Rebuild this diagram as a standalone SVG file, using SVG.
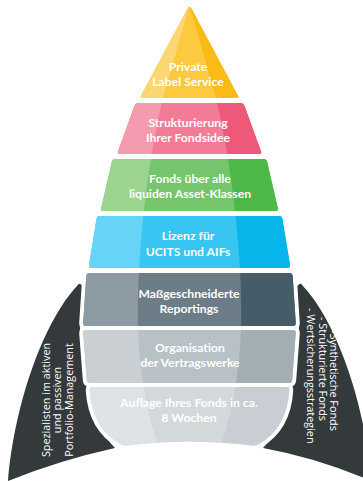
<svg xmlns="http://www.w3.org/2000/svg" width="363" height="481" viewBox="0 0 363 481">
<style>
.lbl{font-family:Lato,"Open Sans","Liberation Sans",sans-serif;font-weight:700;font-size:12.2px;fill:#fff;text-anchor:middle}
.fin{fill:#34393c}
.fint{font-family:"Open Sans","Liberation Sans",sans-serif;font-size:10.8px;fill:#fff}
.gap{fill:#fff;stroke:#fff;stroke-width:8;stroke-linejoin:round}
</style>
<defs>
<path id="s1" d="M187.3,9 Q189.5,4.5 191.7,9 L237.9,95.4 Q239.5,98 236.5,98 H142.5 Q139.5,98 141.1,95.4 Z"/>
<path id="s2" d="M138.5,103 H240.5 Q243.5,103 244.5,105.8 L261,151.2 Q262,154 259,154 H120 Q117,154 118,151.2 L134.5,105.8 Q135.5,103 138.5,103 Z"/>
<path id="s3" d="M115.5,159 H263.5 Q266.5,159 267.2,161.9 L277.8,208.1 Q278.5,211 275.5,211 H103.5 Q100.5,211 101.2,208.1 L111.8,161.9 Q112.5,159 115.5,159 Z"/>
<path id="s4" d="M100,216 H279 Q282,216 282.5,219 L290,265 Q290.5,268 287.5,268 H91.5 Q88.5,268 89,265 L96.5,219 Q97,216 100,216 Z"/>
<path id="s5" d="M89.5,273 H289.5 Q292.5,273 292.7,276 L295.8,323 Q296,326 293,326 H86 Q83,326 83.2,323 L86.3,276 Q86.5,273 89.5,273 Z"/>
<path id="s6" d="M86,330 H293 Q296,330 295.8,333 L292.2,380 Q292,383 289,383 H90 Q87,383 86.8,380 L83.2,333 Q83,330 86,330 Z"/>
<path id="s7" d="M92.5,387 H286.5 Q289.5,387 289.3,390 Q287,428 259,444 Q256,446 252,445.5 Q189.5,438 127,445.5 Q123,446 120,444 Q92,428 89.7,390 Q89.5,387 92.5,387 Z"/>
<path id="lz" d="M0,0 H189.5 V5 L163,98 C150,150 136,250 138,328 C139,370 148,420 160,450 V481 H0 Z"/>
<clipPath id="c1"><use href="#s1"/></clipPath>
<clipPath id="c2"><use href="#s2"/></clipPath>
<clipPath id="c3"><use href="#s3"/></clipPath>
<clipPath id="c4"><use href="#s4"/></clipPath>
<clipPath id="c5"><use href="#s5"/></clipPath>
<clipPath id="c6"><use href="#s6"/></clipPath>
<clipPath id="c7"><use href="#s7"/></clipPath>
</defs>
<rect width="363" height="481" fill="#fff"/>
<g id="fin-left">
<path class="fin" d="M77,286 Q80,281 82.5,287 L80,330 C81,375 93,425 115,448 Q60,460 8,481 C15,400 45,320 77,286 Z"/>
<text class="fint" transform="translate(49.5,400) rotate(-90)" text-anchor="middle"><tspan x="0" y="0">Spezialisten im aktiven</tspan><tspan x="0" y="11.5">und passiven</tspan><tspan x="0" y="23">Portfolio-Management</tspan></text>
</g>
<g id="fin-right">
<path class="fin" d="M297,287 Q300,281 303,286 C335,320 365,400 371,481 Q318,458 263,448 C287,424 298,372 299,330 Z"/>
<text class="fint" transform="rotate(90)"><tspan x="330" y="-330">-Synthetische Fonds</tspan><tspan x="317" y="-318.5">- Strukturierte Fonds</tspan><tspan x="308" y="-307">- Wertsicherungsstrategien</tspan></text>
</g>
<g id="gaps">
<use href="#s5" class="gap"/><use href="#s6" class="gap"/><use href="#s7" class="gap"/>
</g>
<g id="layer1">
<g clip-path="url(#c1)"><rect x="80" y="0" width="220" height="481" fill="#fcc941"/><use href="#lz" fill="#fdd674"/><use href="#lz" fill="#fbbb16" transform="translate(379,0) scale(-1,1)"/></g>
<text class="lbl" x="188" y="70.5">Private</text><text class="lbl" x="188" y="85.5">Label Service</text>
</g>
<g id="layer2">
<g clip-path="url(#c2)"><rect x="80" y="0" width="220" height="481" fill="#f27b96"/><use href="#lz" fill="#f59bb0"/><use href="#lz" fill="#ee5879" transform="translate(379,0) scale(-1,1)"/></g>
<text class="lbl" x="188" y="127">Strukturierung</text><text class="lbl" x="188" y="142">Ihrer Fondsidee</text>
</g>
<g id="layer3">
<g clip-path="url(#c3)"><rect x="80" y="0" width="220" height="481" fill="#74c56b"/><use href="#lz" fill="#9ad48e"/><use href="#lz" fill="#4db848" transform="translate(379,0) scale(-1,1)"/></g>
<text class="lbl" x="190" y="183">Fonds über alle</text><text class="lbl" x="190" y="198">liquiden Asset-Klassen</text>
</g>
<g id="layer4">
<g clip-path="url(#c4)"><rect x="80" y="0" width="220" height="481" fill="#38c5f1"/><use href="#lz" fill="#67d3f6"/><use href="#lz" fill="#08b5eb" transform="translate(379,0) scale(-1,1)"/></g>
<text class="lbl" x="188" y="240">Lizenz für</text><text class="lbl" x="188" y="256">UCITS und AIFs</text>
</g>
<g id="layer5">
<g clip-path="url(#c5)"><rect x="80" y="0" width="220" height="481" fill="#6d7d88"/><use href="#lz" fill="#8d9ba4"/><use href="#lz" fill="#465c69" transform="translate(379,0) scale(-1,1)"/></g>
<text class="lbl" x="189" y="298">Maßgeschneiderte</text><text class="lbl" x="189" y="313">Reportings</text>
</g>
<g id="layer6">
<g clip-path="url(#c6)"><rect x="80" y="0" width="220" height="481" fill="#b8c1c6"/><use href="#lz" fill="#c9cfd3"/><use href="#lz" fill="#a3aeb4" transform="translate(379,0) scale(-1,1)"/></g>
<text class="lbl" x="190" y="352">Organisation</text><text class="lbl" x="190" y="367">der Vertragswerke</text>
</g>
<g id="layer7">
<g clip-path="url(#c7)"><rect x="80" y="0" width="220" height="481" fill="#d3d8db"/><use href="#lz" fill="#dee2e5"/><use href="#lz" fill="#c8ced3" transform="translate(379,0) scale(-1,1)"/></g>
<text class="lbl" x="189" y="407">Auflage Ihres Fonds in ca.</text><text class="lbl" x="189" y="422">8 Wochen</text>
</g>
<g id="connectors"/>
</svg>
